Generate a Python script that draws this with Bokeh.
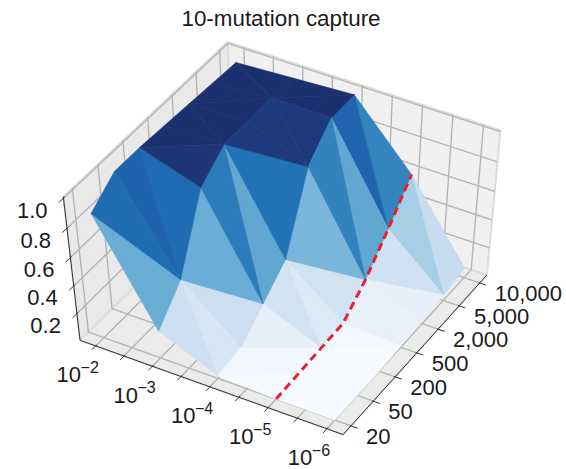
import numpy as np
from bokeh.core.properties import value
from bokeh.embed import file_html
from bokeh.models import ColumnDataSource, Range1d
from bokeh.plotting import figure
from bokeh.resources import INLINE

TITLE = "10-mutation capture"
rate_exponents = [2, 3, 4, 5, 6]            # mutation rate 10^-n, rows of the surface
rate_tick_exponents = [2, 2.5, 3, 3.5, 4, 4.5, 5, 5.5, 6]
population_labels = ["20", "50", "200", "500", "2,000", "5,000", "10,000"]
z_ticks = [0.2, 0.4, 0.6, 0.8, 1.0]
capture_1e2 = [0.88, 1.00, 1.00, 0.99, 0.98, 0.97, 0.96]
capture_1e3 = [0.20, 0.40, 0.87, 1.00, 1.00, 1.00, 0.98]
capture_1e4 = [0.02, 0.05, 0.20, 0.35, 0.83, 1.00, 1.00]
capture_1e5 = [0.00, 0.01, 0.02, 0.03, 0.18, 0.38, 0.60]
capture_1e6 = [0.00, 0.00, 0.00, 0.01, 0.02, 0.04, 0.07]
capture = np.array([capture_1e2, capture_1e3, capture_1e4, capture_1e5, capture_1e6])
# cell split: 1 = diagonal (i,j)-(i+1,j+1), 0 = diagonal (i+1,j)-(i,j+1)
diag_1 = [1, 0, 1, 0, 1, 0]
diag_2 = [0, 1, 0, 1, 0, 1]
diag_3 = [1, 1, 0, 1, 0, 0]
diag_4 = [1, 0, 1, 0, 1, 0]
diagonals = [diag_1, diag_2, diag_3, diag_4]
BLUES = ["#f7fbff", "#deebf7", "#c6dbef", "#9ecae1", "#6baed6",
         "#4292c6", "#2171b5", "#1c5aa6", "#1c2f6e"]

# axis limits of the 3-D box
A_LIM = (1.725, 6.275)
B_LIM = (-0.35, 6.35)
Z_LIM = (0.0, 1.01)

# camera calibrated from the box corners as they appear on the page
CAMERA = [((0, 0, 0), (80, 341)), ((1, 0, 0), (343, 433)), ((1, 1, 0), (486, 277)),
          ((0, 0, 1), (62, 196)), ((0, 1, 1), (228, 43)), ((1, 1, 1), (500, 128)),
          ((0, 1, 0), (232, 186))]
rows = []
for (u, v, w), (x, y) in CAMERA:
    x, y = x / 500, y / 500
    rows.append([u, v, w, 1, 0, 0, 0, 0, -x * u, -x * v, -x * w, -x])
    rows.append([0, 0, 0, 0, u, v, w, 1, -y * u, -y * v, -y * w, -y])
P = np.linalg.svd(np.array(rows, float))[2][-1].reshape(3, 4)


def norm(a, b, z):
    return ((np.asarray(a, float) - A_LIM[0]) / (A_LIM[1] - A_LIM[0]),
            (np.asarray(b, float) - B_LIM[0]) / (B_LIM[1] - B_LIM[0]),
            (np.asarray(z, float) - Z_LIM[0]) / (Z_LIM[1] - Z_LIM[0]))


def proj(a, b, z):
    u, v, w = norm(a, b, z)
    h = np.stack([u, v, w, np.ones_like(u)])
    q = P @ h
    return q[0] / q[2] * 500, q[1] / q[2] * 500


def seg(a, b, z):
    x, y = proj(a, b, z)
    return list(x), list(y)


def blues(t):
    rgb = np.array([[int(c[i:i + 2], 16) for i in (1, 3, 5)] for c in BLUES], float)
    grid = np.linspace(0, 1, len(BLUES))
    t = min(t / 0.975, 1.0)
    return "#%02x%02x%02x" % tuple(int(round(np.interp(t, grid, rgb[:, k]))) for k in range(3))


p = figure(width=566, height=469, x_range=Range1d(0, 566), y_range=Range1d(469, 0),
           x_axis_type=None, y_axis_type=None, toolbar_location=None,
           output_backend="svg", min_border=0, outline_line_color=None)
p.background_fill_color = "white"

a0, a1 = A_LIM
b0, b1 = B_LIM
z0, z1 = Z_LIM
FLOOR, LEFT, RIGHT = "#ebebea", "#e9e9e9", "#f0f0f0"
panes = [([a0, a1, a1, a0], [b0, b0, b1, b1], [z0] * 4, FLOOR),
         ([a0] * 4, [b0, b1, b1, b0], [z0, z0, z1, z1], LEFT),
         ([a0, a1, a1, a0], [b1] * 4, [z0, z0, z1, z1], RIGHT)]
xs, ys, fills = [], [], []
for a, b, z, c in panes:
    x, y = seg(a, b, z)
    xs.append(x); ys.append(y); fills.append(c)
p.patches(xs, ys, fill_color=fills, line_color="#dcdcdc", line_width=2)

# grid lines
gx, gy = [], []
rate_ticks = rate_tick_exponents
pop_ticks = list(range(len(population_labels)))
for a in rate_ticks:
    x, y = seg([a, a, a], [b0, b1, b1], [z0, z0, z1])
    gx.append(x); gy.append(y)
for b in pop_ticks:
    x, y = seg([a1, a0, a0], [b, b, b], [z0, z0, z1])
    gx.append(x); gy.append(y)
for z in z_ticks:
    x, y = seg([a0, a0, a1], [b0, b1, b1], [z, z, z])
    gx.append(x); gy.append(y)
p.multi_line(gx, gy, line_color="#b4b4b4", line_width=1.4)

# surface
tris = []
for i in range(len(rate_exponents) - 1):
    for j in range(len(population_labels) - 1):
        if diagonals[i][j]:
            tris += [((i, j), (i + 1, j), (i + 1, j + 1)), ((i, j), (i, j + 1), (i + 1, j + 1))]
        else:
            tris += [((i, j), (i + 1, j), (i, j + 1)), ((i + 1, j), (i, j + 1), (i + 1, j + 1))]


def depth(t):
    return np.mean([rate_exponents[i] / 6 - j / 6 + capture[i, j] * 0.6 for i, j in t])


tris.sort(key=depth)
sx, sy, sc = [], [], []
for t in tris:
    a = [rate_exponents[i] for i, j in t]
    b = [j for i, j in t]
    z = [capture[i, j] for i, j in t]
    x, y = seg(a, b, z)
    sx.append(x); sy.append(y); sc.append(blues(float(np.mean(z))))
p.patches(sx, sy, fill_color=sc, line_color=sc, line_width=0.6)

# red dashed contour along 10^-5
row = rate_exponents.index(5)
rx, ry = seg([5] * len(pop_ticks), pop_ticks, capture[row])
p.line(rx, ry, line_color="#e8202e", line_width=3, line_dash="8 5")

# axes
ax, ay = [], []
for a, b, z in [([a0, a1], [b0, b0], [z0, z0]), ([a1, a1], [b0, b1], [z0, z0]),
                ([a0, a0], [b0, b0], [z0, z1])]:
    x, y = seg(a, b, z)
    ax.append(x); ay.append(y)
for a in rate_ticks:
    x, y = seg([a, a], [b0 - 0.16, b0 + 0.05], [z0, z0])
    ax.append(x); ay.append(y)
for b in pop_ticks:
    x, y = seg([a1 + 0.11, a1 - 0.02], [b, b], [z0, z0])
    ax.append(x); ay.append(y)
for z in z_ticks:
    x, y = seg([a0, a0], [b0 - 0.18, b0 + 0.05], [z, z])
    ax.append(x); ay.append(y)
p.multi_line(ax, ay, line_color="#333333", line_width=1.0)

FONT = value("Liberation Sans")
TEXT = "#1a1a1a"


def label(x, y, s, size, align="left"):
    src = ColumnDataSource(dict(x=[x], y=[y], t=[s]))
    p.text("x", "y", text="t", source=src, text_font=FONT, text_font_size=size,
           text_color=TEXT, text_align=align, text_baseline="middle")


label(280.5, 18, TITLE, "22.4px", "center")
for z in z_ticks:
    x, y = proj(a0, b0, z)
    label(float(x) - 16, float(y) + 12, f"{z:.1f}", "22px", "right")
for e in rate_exponents:
    x, y = proj(e, b0, z0)
    label(float(x) - 39, float(y) + 29, "10", "22px")
    label(float(x) - 15, float(y) + 21, f"\u2212{e}", "16px")
for b, s in zip(pop_ticks, population_labels):
    x, y = proj(a1, b, z0)
    label(float(x) + 15, float(y) + 10.5, s, "22px")

open("out.html", "w").write(file_html(p, INLINE))
